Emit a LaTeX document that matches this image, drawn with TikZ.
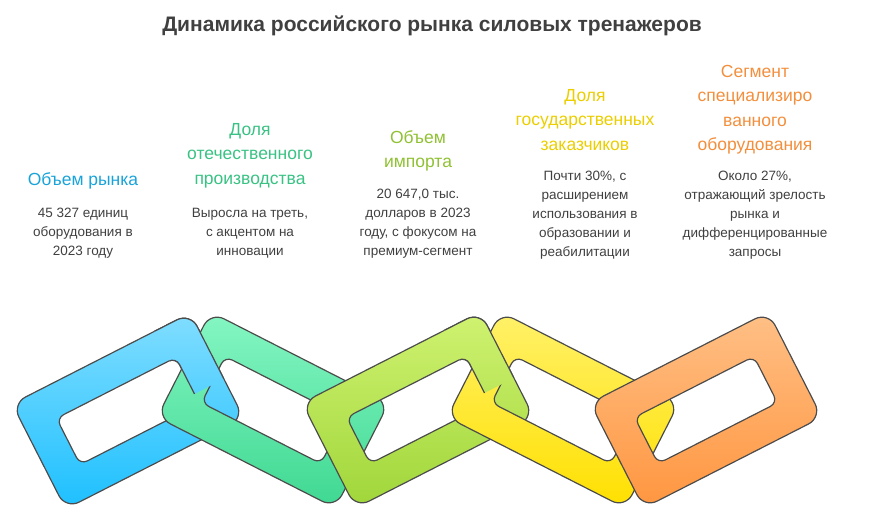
\documentclass[tikz,border=0pt]{standalone}
\usepackage{fontspec}
\usetikzlibrary{calc}
\setmainfont{Liberation Sans}
\begin{document}
\begin{tikzpicture}[x=1pt,y=-1pt,
  head/.style={font=\fontsize{17.5}{24.5}\selectfont,align=center,anchor=north,inner sep=0pt},
  body/.style={font=\fontsize{13.5}{19}\selectfont,text=black!75,align=center,anchor=north,inner sep=0pt},
  ringline/.style={draw=black!70,line width=1.2pt}]
\useasboundingbox (0,0) rectangle (872,525);
\definecolor{cA1}{HTML}{80DDFF}\definecolor{cA2}{HTML}{1EC0FF}
\definecolor{cB1}{HTML}{84F6C2}\definecolor{cB2}{HTML}{3FD892}
\definecolor{cC1}{HTML}{CFF270}\definecolor{cC2}{HTML}{A0D63A}
\definecolor{cD1}{HTML}{FFF168}\definecolor{cD2}{HTML}{FFE000}
\definecolor{cE1}{HTML}{FFBF85}\definecolor{cE2}{HTML}{FF9640}
\newcommand{\lp}[5]{($(#1,#2)+({-#3}:#4)+({90-#3}:#5)$)}
\newcommand{\ringshape}[3]{%
     [rounded corners=15pt] \lp{#1}{#2}{#3}{-100}{-59} -- \lp{#1}{#2}{#3}{100}{-59} -- \lp{#1}{#2}{#3}{100}{59} -- \lp{#1}{#2}{#3}{-100}{59} -- cycle
     [rounded corners=8pt] \lp{#1}{#2}{#3}{-67}{-26} -- \lp{#1}{#2}{#3}{67}{-26} -- \lp{#1}{#2}{#3}{67}{26} -- \lp{#1}{#2}{#3}{-67}{26} -- cycle}
\newcommand{\ringpath}[5]{%
  \begin{scope}[even odd rule]
   \clip \ringshape{#1}{#2}{#3};
   \shade[top color=#4,bottom color=#5] ({#1-125},315) rectangle ({#1+125},507);
  \end{scope}
  \path[ringline,even odd rule] \ringshape{#1}{#2}{#3};}
\newcommand{\chainlink}[5]{\ringpath{#1}{#2}{#3}{#4}{#5}}
\newcommand{\chainpatch}[6]{%
  \begin{scope}
   \clip \lp{#1}{#2}{#3}{60}{-75} -- \lp{#1}{#2}{#3}{110}{-75} -- \lp{#1}{#2}{#3}{110}{#6} -- \lp{#1}{#2}{#3}{60}{#6} -- cycle;
   \ringpath{#1}{#2}{#3}{#4}{#5}\end{scope}}
\chainlink{128}{411}{27}{cA1}{cA2}
\chainlink{273}{410}{-27}{cB1}{cB2}
\chainpatch{128}{411}{27}{cA1}{cA2}{15}
\chainlink{418}{410}{27}{cC1}{cC2}
\chainlink{563}{410}{-27}{cD1}{cD2}
\chainpatch{418}{410}{27}{cC1}{cC2}{15}
\chainlink{706}{410}{27}{cE1}{cE2}

\node[font=\bfseries\fontsize{21}{25}\selectfont,text=black!75,anchor=base] (title) at (432,31) {Динамика российского рынка силовых тренажеров};

\node[head,text=cA2!85!black] (h1) at (83,172) {Объем рынка};
\node[body] (b1) at (83,208) {45 327 единиц\\оборудования в\\2023 году};

\node[head,text=cB2!90!black] (h2) at (250,123) {Доля\\отечественного\\производства};
\node[body] (b2) at (250,208) {Выросла на треть,\\с акцентом на\\инновации};

\node[head,text=cC2!90!black] (h3) at (418,130) {Объем\\импорта};
\node[body] (b3) at (418,189) {20 647,0 тыс.\\долларов в 2023\\году, с фокусом на\\премиум-сегмент};

\node[head,text=cD2!92!black] (h4) at (585,89) {Доля\\государственных\\заказчиков};
\node[body] (b4) at (585,171) {Почти 30\%, с\\расширением\\использования в\\образовании и\\реабилитации};

\node[head,text=cE2!95!black] (h5) at (755,65) {Сегмент\\специализиро\\ванного\\оборудования};
\node[body] (b5) at (755,171) {Около 27\%,\\отражающий зрелость\\рынка и\\дифференцированные\\запросы};
\end{tikzpicture}
\end{document}
